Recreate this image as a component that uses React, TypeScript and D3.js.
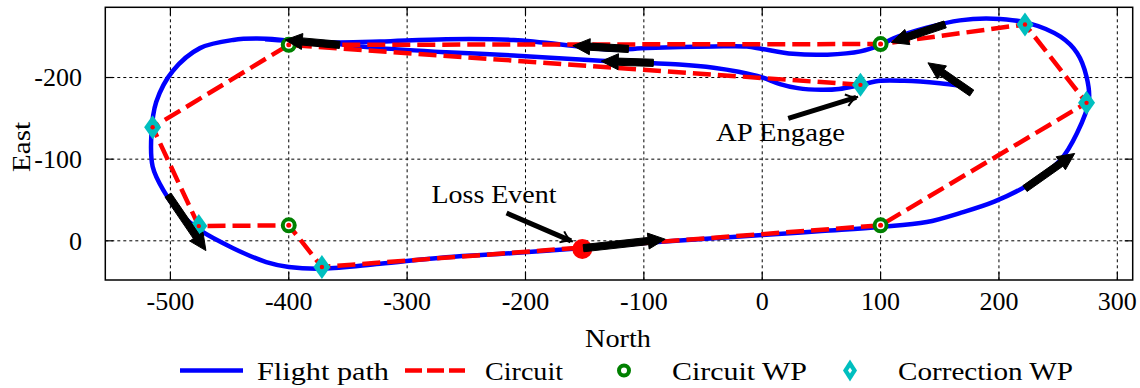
import React from "react";
import * as d3 from "d3";

// ---------- data ----------
const xTicks = [-500, -400, -300, -200, -100, 0, 100, 200, 300];
const yTicks = [-200, -100, 0];

const flightNorth = [168, 150, 120, 100, 83, 65, 50, 30, 15, 0, -20, -41, -70, -100, -154, -210, -267, -323, -360, -400,
  -419, -447, -475, -498, -512, -516, -515, -506, -492, -475, -447, -419, -400, -371, -323, -267, -210, -154, -97, -41,
  0, 50, 100, 139, 167, 196, 224, 252, 266, 276, 274, 266, 252, 224, 195, 167, 139, 111, 100, 83, 55, 26, 0, -13, -41,
  -97, -126, -154, -210, -267, -323, -360, -400, -420];
const flightEast = [-190, -193, -196, -196, -191, -186, -185, -187, -192, -200, -207, -212, -216, -218, -222, -227, -231, -236, -241, -245,
  -247.5, -246, -236, -208, -170, -132, -91, -62, -34, -13, 9, 26, 32, 34, 28, 20, 15, 9, 2.5, -3,
  -7, -12, -17, -23, -34, -48, -68, -99, -132, -172, -201, -230, -250, -267, -272, -270, -261, -248, -240, -232, -228, -229, -235, -238, -238,
  -236, -234, -238, -246, -247, -244, -243, -245, -247];

const circuitNorth = [83, -400, -515, -476, -400, -372, 100, 274, 222, 100, -400];
const circuitEast = [-191, -240, -139, -18, -19, 32, -19, -169, -265, -241, -240];

const circuitWpNorth = [-400, 100, 100, -400];
const circuitWpEast = [-240, -241, -19, -19];

const correctionWpNorth = [83, -515, -476, -372, 274, 222];
const correctionWpEast = [-191, -139, -18, 32, -169, -265];

const lossNorth = -152;
const lossEast = 10;

// direction arrows: tail -> head
const dirTailNorth = [-357, -113, -92, -151, 154.5, 177, 222, -502];
const dirTailEast = [-240, -235, -218, 9, -265, -181, -64, -56];
const dirHeadNorth = [-403, -160, -136, -82, 109, 140, 264, -470];
const dirHeadEast = [-246, -239, -220, -2, -243, -218, -107, 12];

// annotations
const annoLabels = ["Loss Event", "AP Engage"];
const annoTextNorth = [-226.6, 15.5];
const annoTextEast = [-46, -122];
const annoTailNorth = [-216, 22];
const annoTailEast = [-34, -150];
const annoHeadNorth = [-160, 81];
const annoHeadEast = [1, -176.5];

const legendLabels = ["Flight path", "Circuit", "Circuit WP", "Correction WP"];

// ---------- layout ----------
const W = 1140;
const H = 388;
const left = 105.3, right = 1132.7, top = 7.3, bottom = 280;
const FONT = "Liberation Serif, Times New Roman, DejaVu Serif, serif";
const BLUE = "#0000ff";
const RED = "#ff0000";
const GREEN = "#008000";
const CYAN = "#00bfbf";

const txt: React.CSSProperties = { fontFamily: FONT, fontSize: "26px" };

export default function App() {
  const x = d3.scaleLinear().domain([-555, 313]).range([left, right]);
  const y = d3.scaleLinear().domain([-286, 48]).range([top, bottom]);

  const flight = flightNorth.map((n, i) => [x(n), y(flightEast[i])] as [number, number]);
  const circuit = circuitNorth.map((n, i) => [x(n), y(circuitEast[i])] as [number, number]);
  const flightPath = d3.line().curve(d3.curveCatmullRom.alpha(0.5))(flight) || "";
  const circuitPath = d3.line()(circuit) || "";

  const diamond = (cx: number, cy: number, w: number, h: number) =>
    `M${cx},${cy - h / 2}L${cx + w / 2},${cy}L${cx},${cy + h / 2}L${cx - w / 2},${cy}Z`;

  const dirArrows = dirTailNorth.map((tn, i) => {
    const x0 = x(tn), y0 = y(dirTailEast[i]);
    const x1 = x(dirHeadNorth[i]), y1 = y(dirHeadEast[i]);
    const dx = x1 - x0, dy = y1 - y0;
    const L = Math.hypot(dx, dy);
    const ux = dx / L, uy = dy / L;
    const px = -uy, py = ux;
    const hl = 17, hw = 8, sw = 3.6;
    const bx = x1 - ux * hl, by = y1 - uy * hl;
    const pts = [
      [x0 + px * sw, y0 + py * sw],
      [bx + px * sw, by + py * sw],
      [bx + px * hw, by + py * hw],
      [x1, y1],
      [bx - px * hw, by - py * hw],
      [bx - px * sw, by - py * sw],
      [x0 - px * sw, y0 - py * sw],
    ];
    return "M" + pts.map((p) => p.join(",")).join("L") + "Z";
  });

  const annoArrows = annoTailNorth.map((tn, i) => {
    const x0 = x(tn), y0 = y(annoTailEast[i]);
    const x1 = x(annoHeadNorth[i]), y1 = y(annoHeadEast[i]);
    const dx = x1 - x0, dy = y1 - y0;
    const L = Math.hypot(dx, dy);
    const ux = dx / L, uy = dy / L;
    const px = -uy, py = ux;
    const hl = 12, hw = 6;
    return {
      shaft: `M${x0},${y0}L${x1 - ux * 2},${y1 - uy * 2}`,
      head: `M${x1 - ux * hl + px * hw},${y1 - uy * hl + py * hw}Q${x1 - ux * 5},${y1 - uy * 5} ${x1},${y1}Q${x1 - ux * 5},${y1 - uy * 5} ${x1 - ux * hl - px * hw},${y1 - uy * hl - py * hw}`,
    };
  });

  const annoWidths = [125, 129];
  const legendTextX = [257, 485, 672, 898];
  const legendTextW = [132, 78, 135, 175];
  const ly = 370.5;

  return (
    <svg width={W} height={H} style={{ position: "absolute", left: 0, top: 0, background: "#fff" }}>
      <defs>
        <clipPath id="plotClip">
          <rect x={left} y={top} width={right - left} height={bottom - top} />
        </clipPath>
      </defs>
      <rect x={0} y={0} width={W} height={H} fill="#fff" />
      {/* grid */}
      <g stroke="#000" strokeWidth={1} strokeDasharray="3,3">
        {xTicks.map((t) => (
          <line key={"gx" + t} x1={x(t)} x2={x(t)} y1={top} y2={bottom} />
        ))}
        {yTicks.map((t) => (
          <line key={"gy" + t} x1={left} x2={right} y1={y(t)} y2={y(t)} />
        ))}
      </g>
      {/* ticks */}
      <g stroke="#000" strokeWidth={1.2}>
        {xTicks.map((t) => (
          <g key={"tx" + t}>
            <line x1={x(t)} x2={x(t)} y1={bottom} y2={bottom - 8} />
            <line x1={x(t)} x2={x(t)} y1={top} y2={top + 8} />
          </g>
        ))}
        {yTicks.map((t) => (
          <g key={"ty" + t}>
            <line x1={left} x2={left + 8} y1={y(t)} y2={y(t)} />
            <line x1={right} x2={right - 8} y1={y(t)} y2={y(t)} />
          </g>
        ))}
      </g>
      <g clipPath="url(#plotClip)">
        <path d={flightPath} fill="none" stroke={BLUE} strokeWidth={4.5} strokeLinejoin="round" />
        <path d={circuitPath} fill="none" stroke={RED} strokeWidth={4.5} strokeDasharray="18,7" />
        {circuitWpNorth.map((n, i) => (
          <g key={"cw" + i}>
            <circle cx={x(n)} cy={y(circuitWpEast[i])} r={6} fill="#fff" stroke={GREEN} strokeWidth={4} />
            <circle cx={x(n)} cy={y(circuitWpEast[i])} r={2.5} fill={RED} />
          </g>
        ))}
        {correctionWpNorth.map((n, i) => (
          <g key={"cr" + i}>
            <path d={diamond(x(n), y(correctionWpEast[i]), 17, 24)} fill={CYAN} />
            <circle cx={x(n)} cy={y(correctionWpEast[i])} r={2.2} fill={RED} />
          </g>
        ))}
        <circle cx={x(lossNorth)} cy={y(lossEast)} r={10} fill={RED} />
        {dirArrows.map((d, i) => (
          <path key={"da" + i} d={d} fill="#000" stroke="#000" strokeWidth={1} strokeLinejoin="miter" />
        ))}
        {annoArrows.map((a, i) => (
          <g key={"aa" + i} fill="none" stroke="#000">
            <path d={a.shaft} strokeWidth={5} />
            <path d={a.head} strokeWidth={2} />
          </g>
        ))}
      </g>
      {/* plot border */}
      <rect x={left} y={top} width={right - left} height={bottom - top} fill="none" stroke="#000" strokeWidth={1.5} />
      {/* tick labels */}
      <g fill="#000">
        {xTicks.map((t) => (
          <text key={"lx" + t} style={txt} x={x(t)} y={310} textAnchor="middle">{t}</text>
        ))}
        {yTicks.map((t) => (
          <text key={"ly" + t} style={txt} x={82} y={y(t)} dy="0.34em" textAnchor="end">{t}</text>
        ))}
      </g>
      {/* axis titles */}
      <text style={txt} x={618} y={347} textAnchor="middle" textLength={66} lengthAdjust="spacingAndGlyphs">North</text>
      <text style={txt} transform="translate(30,147) rotate(-90)" textAnchor="middle" textLength={50} lengthAdjust="spacingAndGlyphs">East</text>
      {/* annotations */}
      {annoLabels.map((s, i) => (
        <text key={"at" + i} style={txt} x={x(annoTextNorth[i])} y={y(annoTextEast[i])} textAnchor="middle" textLength={annoWidths[i]} lengthAdjust="spacingAndGlyphs">{s}</text>
      ))}
      {/* legend */}
      <line x1={180} x2={243} y1={ly} y2={ly} stroke={BLUE} strokeWidth={4.5} />
      <line x1={405} x2={465} y1={ly} y2={ly} stroke={RED} strokeWidth={4.5} strokeDasharray="17,5" />
      <circle cx={624} cy={ly} r={5} fill="#fff" stroke={GREEN} strokeWidth={4} />
      <path d={diamond(850, ly, 14, 22)} fill={CYAN} />
      <path d={diamond(850, ly, 4, 6)} fill="#fff" />
      {legendLabels.map((s, i) => (
        <text key={"lg" + i} style={txt} x={legendTextX[i]} y={380} textLength={legendTextW[i]} lengthAdjust="spacingAndGlyphs">{s}</text>
      ))}
    </svg>
  );
}
